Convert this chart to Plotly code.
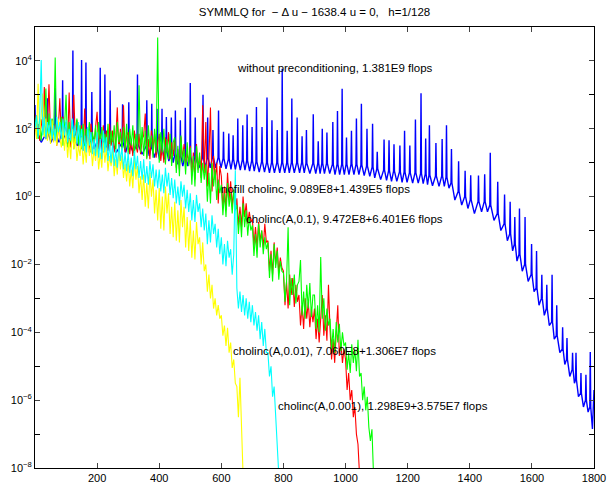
import numpy as np
import plotly.graph_objects as go

title_text = "SYMMLQ for  \u2212 \u0394 u \u2212 1638.4 u = 0,   h=1/128"

# Unpreconditioned run, one row per spike:
# (peak iteration, log10 peak, log10 level at the foot of the spike, trough iteration, log10 trough)
blue_spikes = [
    (0, 2.7, 2.0, 20, 1.6), (40, 2.9, 1.9, 52, 1.6), (65, 3.2, 1.9, 77, 1.6), (89, 3.43, 1.9, 105, 1.55),
    (122, 4.31, 1.85, 136, 1.5), (150, 4.03, 1.8, 157, 1.5), (164, 3.95, 1.8, 173, 1.5), (183, 3.08, 1.8, 196, 1.45),
    (210, 3.80, 1.75, 217, 1.4), (225, 3.60, 1.7, 233, 1.35), (242, 3.13, 1.65, 262, 1.3), (282, 2.72, 1.6, 292, 1.3),
    (302, 2.78, 1.6, 316, 1.3), (330, 3.60, 1.55, 345, 1.25), (360, 2.84, 1.5, 368, 1.2), (376, 2.74, 1.45, 384, 1.15),
    (393, 2.59, 1.4, 401, 1.1), (409, 2.59, 1.4, 416, 1.1), (423, 2.35, 1.35, 431, 1.05), (439, 2.33, 1.3, 445, 1.0),
    (452, 2.54, 1.25, 460, 0.95), (468, 2.25, 1.2, 476, 0.9), (484, 2.62, 1.2, 492, 0.9), (500, 3.35, 1.18, 508, 0.88),
    (516, 2.33, 1.15, 528, 0.85), (541, 3.0, 1.15, 548, 0.85), (556, 2.33, 1.15, 564, 0.85), (573, 1.96, 1.15, 582, 0.85),
    (591, 2.54, 1.15, 599, 0.85), (607, 1.91, 1.12, 615, 0.82), (624, 1.86, 1.1, 631, 0.8), (638, 1.81, 1.1, 645, 0.8),
    (653, 2.30, 1.08, 661, 0.78), (669, 2.10, 1.08, 676, 0.78), (683, 2.42, 1.05, 691, 0.75), (699, 2.05, 1.05, 706, 0.75),
    (713, 2.64, 1.02, 722, 0.72), (731, 2.05, 1.02, 739, 0.72), (747, 2.92, 1.0, 755, 0.7), (763, 2.25, 1.0, 771, 0.7),
    (780, 1.96, 1.0, 788, 0.7), (796, 3.77, 1.0, 804, 0.7), (812, 1.94, 1.0, 819, 0.7), (827, 2.89, 1.0, 835, 0.7),
    (844, 2.33, 1.0, 852, 0.7), (860, 1.78, 1.0, 867, 0.7), (874, 1.96, 0.98, 885, 0.68), (896, 2.43, 0.98, 904, 0.68),
    (912, 1.63, 0.98, 918, 0.68), (925, 2.0, 0.98, 932, 0.68), (940, 1.89, 0.98, 949, 0.68), (959, 2.20, 0.95, 966, 0.65),
    (974, 2.52, 0.95, 981, 0.65), (989, 3.18, 0.95, 996, 0.65), (1003, 1.74, 0.95, 1011, 0.65), (1019, 1.94, 0.95, 1027, 0.65),
    (1035, 2.30, 0.95, 1043, 0.65), (1051, 2.74, 0.93, 1060, 0.62), (1069, 2.0, 0.9, 1078, 0.6), (1087, 2.15, 0.87, 1094, 0.55),
    (1102, 1.32, 0.82, 1113, 0.5), (1124, 1.68, 0.78, 1132, 0.48), (1140, 1.66, 0.76, 1148, 0.45), (1156, 1.54, 0.75, 1165, 0.45),
    (1175, 1.51, 0.73, 1182, 0.42), (1190, 1.94, 0.72, 1198, 0.42), (1207, 1.51, 0.7, 1216, 0.4), (1225, 2.27, 0.7, 1234, 0.4),
    (1243, 3.05, 0.68, 1250, 0.38), (1258, 1.71, 0.66, 1264, 0.35), (1270, 2.10, 0.63, 1280, 0.32), (1291, 1.58, 0.6, 1301, 0.3),
    (1311, 1.70, 0.6, 1318, 0.3), (1325, 2.10, 0.57, 1333, 0.25), (1341, 1.40, 0.4, 1352, -0.1), (1364, 1.04, 0.15, 1374, -0.25),
    (1385, 0.76, 0.0, 1394, -0.35), (1403, 0.63, -0.1, 1415, -0.5), (1428, 0.62, -0.15, 1438, -0.45), (1448, 0.66, -0.15, 1457, -0.45),
    (1466, 1.29, -0.25, 1478, -0.7), (1490, 0.44, -0.5, 1500, -1.0), (1512, 0.06, -0.8, 1521, -1.3), (1530, -0.15, -1.1, 1538, -1.6),
    (1545, -0.6, -1.4, 1552, -1.9), (1560, -0.35, -1.7, 1569, -2.2), (1578, -0.6, -2.0, 1588, -2.5), (1599, -1.4, -2.3, 1607, -2.8),
    (1615, -1.6, -2.7, 1623, -3.2), (1632, -2.3, -3.0, 1640, -3.5), (1648, -2.6, -3.3, 1656, -3.8), (1665, -2.3, -3.7, 1672, -4.2),
    (1680, -3.2, -4.1, 1690, -4.6), (1699, -3.85, -4.5, 1706, -4.95), (1713, -4.17, -4.8, 1722, -5.3), (1731, -4.6, -5.1, 1737, -5.5),
    (1742, -4.6, -5.4, 1750, -5.9), (1758, -5.2, -5.8, 1766, -6.2), (1774, -5.25, -6.0, 1781, -6.35), (1788, -4.58, -6.2, 1795, -6.85),
]
blue_last = (1800, -5.7)

# Preconditioned runs: log10 residual sampled every 5 iterations, starting at 0
sample_step = 5

red_log = [
    2.41, 1.78, 2.14, 1.65, 2.28, 1.92, 3.23, 1.69, 2.05, 3.31,
    1.77, 2.27, 1.64, 2.13, 1.5, 2.0, 2.9, 1.73, 2.36, 1.86,
    2.2, 1.5, 3.07, 1.45, 2.05, 3.0, 1.6, 2.25, 1.42, 1.9,
    2.1, 1.35, 2.6, 1.55, 2.0, 1.3, 2.15, 1.7, 1.4, 2.05,
    2.5, 1.4, 1.85, 1.32, 2.1, 1.6, 1.95, 1.35, 2.15, 1.5,
    1.95, 1.3, 1.7, 2.63, 1.3, 2.0, 1.45, 2.69, 1.3, 1.8,
    1.9, 1.25, 1.65, 1.2, 1.95, 1.5, 1.3, 1.85, 1.25, 1.7,
    1.8, 2.45, 1.15, 1.7, 1.1, 1.95, 1.4, 1.85, 1.15, 1.6,
    1.85, 1.05, 1.5, 1.0, 1.75, 1.3, 1.9, 1.1, 1.6, 1.2,
    1.7, 0.85, 1.4, 0.8, 1.75, 1.1, 1.55, 0.9, 1.3, 0.95,
    1.5, 0.6, 1.3, 0.5, 1.55, 0.8, 1.2, 0.55, 2.69, 0.7,
    2.2, 0.3, 1.1, 2.63, 0.15, 1.2, 0.5, 1.0, -0.2, 0.9,
    0.6, -0.35, 0.3, -0.4, 0.7, -0.1, 0.45, -0.3, 0.2, -0.4,
    -0.05, -0.85, -0.3, -0.9, 0.0, -0.6, -0.2, -0.8, -0.45, -0.75,
    -0.65, -1.45, -0.9, -1.5, -0.75, -1.3, -1.0, -1.5, -0.8, -1.35,
    -1.3, -2.2, -1.6, -2.3, -1.35, -2.0, -1.5, -2.25, -1.8, -2.1,
    -2.2, -3.2, -2.5, -3.3, -2.3, -2.9, -2.4, -3.25, -2.6, -3.1,
    -2.9, -3.8, -3.2, -3.9, -3.0, -3.6, -3.1, -3.85, -3.3, -3.7,
    -3.3, -4.2, -3.6, -4.3, -3.4, -2.9, -4.1, -3.5, -4.25, -2.6,
    -3.9, -4.8, -4.2, -4.9, -4.0, -3.2, -4.7, -4.3, -4.9, -4.5,
    -4.8, -5.7, -5.2, -6.0, -5.7, -6.5, -6.2, -7.0, -7.3, -8.2,
]

green_log = [
    2.0, 2.4, 1.7, 2.3, 1.65, 2.15, 1.8, 3.19, 1.7, 2.45,
    1.6, 2.3, 1.75, 4.1, 1.55, 2.2, 1.9, 2.35, 1.5, 2.05,
    3.0, 1.45, 2.2, 1.6, 2.25, 1.4, 1.95, 2.3, 1.5, 2.1,
    1.4, 2.15, 1.35, 2.0, 1.7, 2.2, 1.3, 1.9, 1.5, 2.1,
    1.35, 2.2, 1.6, 2.05, 1.3, 1.85, 1.45, 2.15, 1.35, 1.95,
    1.5, 2.1, 1.3, 2.2, 1.6, 1.9, 1.35, 2.05, 1.4, 2.15,
    1.25, 2.0, 1.5, 2.1, 1.2, 1.85, 1.4, 3.28, 1.3, 2.05,
    1.2, 1.95, 1.1, 2.1, 1.45, 1.8, 1.15, 2.0, 1.3, 4.69,
    1.0, 1.9, 1.3, 2.0, 0.95, 1.7, 1.1, 1.85, 0.9, 1.6,
    1.75, 0.7, 1.5, 0.6, 1.8, 1.0, 1.4, 0.65, 1.6, 0.9,
    1.45, 0.35, 1.2, 0.3, 1.5, 0.7, 1.3, 0.4, 1.0, 0.5,
    0.95, -0.15, 0.7, -0.2, 1.0, 0.3, 0.8, -0.1, 0.5, 0.1,
    0.35, -0.55, 0.1, -0.6, 0.4, -0.3, 0.1, -0.5, 0.2, -0.4,
    -0.25, -1.1, -0.5, -1.2, -0.2, -0.9, -0.4, -1.15, -0.6, -1.0,
    -0.85, -1.75, -1.1, -1.8, -0.8, -1.5, -1.0, -1.7, -1.2, -1.55,
    -1.35, -2.4, -1.7, -2.5, -1.4, -2.1, -1.6, -2.45, -1.9, -2.2,
    -2.25, -3.1, -2.5, -0.9, -3.2, -2.4, -2.9, -2.3, -3.15, -2.6,
    -2.5, -1.87, -3.5, -2.8, -3.6, -2.6, -3.3, -2.55, -3.55, -2.9,
    -2.9, -3.9, -3.2, -4.0, -1.78, -3.6, -3.0, -3.95, -3.3, -3.8,
    -3.6, -4.5, -3.9, -4.6, -3.7, -4.3, -3.75, -4.55, -4.0, -4.4,
    -4.3, -5.1, -4.6, -5.2, -4.35, -4.9, -4.5, -5.15, -4.22, -5.3,
    -5.2, -6.0, -5.6, -6.3, -5.9, -6.8, -7.2, -6.86, -8.2,
]

yellow_log = [
    2.2, 1.7, 3.33, 1.8, 2.4, 3.04, 1.75, 2.3, 1.65, 2.1,
    1.55, 2.25, 1.6, 2.0, 1.5, 2.3, 1.7, 1.45, 2.1, 1.35,
    1.9, 1.15, 1.7, 1.1, 2.0, 1.4, 1.8, 1.05, 1.5, 1.2,
    1.75, 0.95, 1.5, 1.0, 1.8, 1.2, 1.6, 0.9, 1.4, 1.05,
    1.55, 0.8, 1.3, 0.85, 1.6, 1.0, 1.45, 0.75, 1.2, 0.9,
    1.35, 0.6, 1.1, 0.65, 1.4, 0.8, 1.2, 0.55, 0.95, 0.45,
    1.05, 0.3, 0.8, 0.25, 1.1, 0.5, 0.9, 0.1, 0.6, -0.1,
    0.65, -0.3, 0.4, -0.35, 0.7, 0.0, 0.5, -0.5, 0.2, -0.7,
    0.25, -0.95, 0.0, -1.0, 0.3, -0.5, 0.1, -1.1, -0.3, -1.2,
    -0.15, -1.3, -0.4, -1.35, -0.1, -0.9, -0.3, -1.5, -0.6, -1.6,
    -0.7, -1.8, -1.0, -1.85, -0.75, -1.4, -1.2, -2.0, -1.35, -2.2,
    -2.0, -2.8, -2.3, -3.0, -2.6, -3.3, -3.0, -3.5, -3.2, -3.6,
    -3.5, -4.1, -3.8, -4.4, -3.87, -4.6, -4.3, -5.05, -4.8, -5.5,
    -5.6, -6.5, -5.34, -7.3, -8.2,
]

cyan_log = [
    2.0, 2.4, 1.75, 2.3, 4.03, 1.8, 2.35, 1.7, 2.2, 1.85,
    2.3, 1.7, 2.1, 1.65, 2.35, 1.9, 2.2, 1.7, 2.3, 1.8,
    2.25, 1.6, 2.0, 1.65, 2.3, 1.75, 2.1, 1.55, 2.2, 1.5,
    2.0, 1.35, 1.8, 1.3, 2.05, 1.5, 1.9, 1.25, 1.7, 1.2,
    1.9, 1.15, 1.7, 1.1, 1.95, 1.3, 1.75, 1.05, 1.55, 1.0,
    1.6, 0.9, 1.4, 0.85, 1.55, 1.05, 1.45, 0.8, 1.3, 0.75,
    1.3, 0.7, 1.15, 0.6, 1.35, 0.8, 1.2, 0.55, 1.05, 0.5,
    1.1, 0.4, 0.9, 0.35, 1.05, 0.55, 0.95, 0.3, 0.8, 0.25,
    0.8, 0.15, 0.65, 0.1, 0.85, 0.3, 0.7, 0.05, 0.55, -0.05,
    0.5, -0.2, 0.3, -0.25, 0.45, 0.0, 0.35, -0.35, 0.2, -0.45,
    0.1, -0.7, -0.1, -0.75, 0.05, -0.45, -0.2, -0.9, -0.35, -1.0,
    -0.5, -1.4, -0.7, -1.35, -0.55, -1.1, -0.8, -1.5, -0.95, -1.7,
    -1.2, -2.0, -1.4, -2.05, -1.3, -1.8, -1.55, -2.3, -1.7, 0.78,
    -2.7, -3.3, -2.8, -3.4, -2.9, -3.5, -3.0, -3.6, -3.1, -3.7,
    -3.2, -3.8, -3.4, -3.95, -3.5, -4.2, -3.7, -4.4, -3.9, -4.6,
    -4.6, -5.3, -5.0, -5.9, -5.6, -6.6, -7.3, -8.2,
]

labels = [
    ("without preconditioning, 1.381E9 flops", 645, 3.79),
    ("nofill cholinc, 9.089E8+1.439E5 flops", 593, 0.22),
    ("cholinc(A,0.1), 9.472E8+6.401E6 flops", 674, -0.66),
    ("cholinc(A,0.01), 7.060E8+1.306E7 flops", 632, -4.54),
    ("cholinc(A,0.001), 1.298E9+3.575E7 flops", 777, -6.16),
]

x_ticks = [200, 400, 600, 800, 1000, 1200, 1400, 1600, 1800]
label_decades = [-8, -6, -4, -2, 0, 2, 4]
minor_decades = [-7, -5, -3, -1, 1, 3, 5]

FONT = "Liberation Sans, Arial, Helvetica, sans-serif"
SPIKE_HALF_WIDTH = 1.5  # drawing width of a spike's flanks, in iterations

fig = go.Figure()

bx, bl = [], []
for xp, lp, lf, xt, lt in blue_spikes:
    bx += [xp - SPIKE_HALF_WIDTH, xp, xp + SPIKE_HALF_WIDTH, xt]
    bl += [lf, lp, lf, lt]
bx.append(blue_last[0])
bl.append(blue_last[1])
fig.add_trace(go.Scatter(x=bx, y=np.power(10.0, np.array(bl)), mode="lines",
                         line=dict(color="#0000FF", width=1.4)))

for vals, col in [(red_log, "#FF0000"), (green_log, "#00FF00"),
                  (yellow_log, "#FFFF00"), (cyan_log, "#00FFFF")]:
    xs = np.arange(len(vals)) * sample_step
    ys = np.power(10.0, np.array(vals))
    fig.add_trace(go.Scatter(x=xs, y=ys, mode="lines", line=dict(color=col, width=1.1)))

for txt, lx, ly in labels:
    fig.add_annotation(x=lx, y=ly, xref="x", yref="y", text=txt, showarrow=False,
                       xanchor="left", yanchor="middle",
                       font=dict(family=FONT, size=11.5, color="black"))

ytext = ["10<sup>" + str(k).replace("-", "\u2212") + "</sup>" for k in label_decades]

fig.update_layout(
    width=610, height=486,
    margin=dict(l=35, r=16, t=27, b=18),
    paper_bgcolor="white", plot_bgcolor="white",
    showlegend=False,
    font=dict(family=FONT, size=11, color="black"),
    title=dict(text=title_text, x=0.5, xref="paper", xanchor="center",
               y=1 - 12 / 486, yref="container", yanchor="middle",
               font=dict(family=FONT, size=11.5, color="black")),
)
fig.update_xaxes(range=[0, 1800], tickvals=x_ticks, ticks="inside", ticklen=5,
                 showline=True, linecolor="black", linewidth=1, mirror="ticks",
                 showgrid=False, zeroline=False, tickfont=dict(size=11), automargin=False)
fig.update_yaxes(type="log", range=[-8, 5], tickvals=[10.0 ** k for k in label_decades],
                 ticktext=ytext, ticks="inside", ticklen=5,
                 minor=dict(tickvals=[10.0 ** k for k in minor_decades], ticks="inside",
                            ticklen=5, tickcolor="black", showgrid=False),
                 showline=True, linecolor="black", linewidth=1, mirror="ticks",
                 showgrid=False, zeroline=False, tickfont=dict(size=11), automargin=False)

fig.write_html("out.html")
